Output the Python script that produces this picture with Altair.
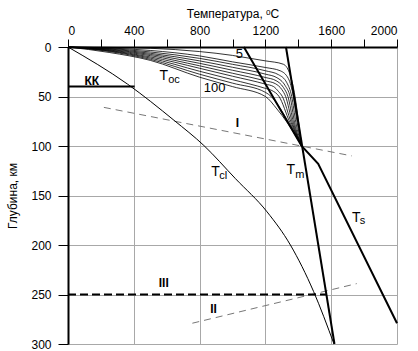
import altair as alt
import pandas as pd

# ---------------- data ----------------
# Toc family (oceanic geotherms, 10 curves from "5" to "100")
toc_names = ["5", "10", "20", "30", "40", "50", "60", "70", "80", "100"]
toc_T = [
    [0, 250, 503, 800, 1000, 1109, 1200, 1309, 1352, 1372, 1380, 1402, 1420],
    [0, 250, 500, 800, 1000, 1200, 1290, 1340, 1370, 1393, 1420],
    [0, 250, 500, 800, 1000, 1200, 1280, 1330, 1360, 1385, 1420],
    [0, 250, 500, 800, 1000, 1200, 1270, 1320, 1350, 1377, 1420],
    [0, 250, 500, 800, 1000, 1200, 1265, 1310, 1337, 1370, 1420],
    [0, 250, 500, 800, 1000, 1200, 1260, 1300, 1323, 1363, 1420],
    [0, 250, 500, 800, 1000, 1200, 1250, 1280, 1303, 1356, 1420],
    [0, 250, 500, 800, 1000, 1200, 1240, 1283, 1348, 1420],
    [0, 250, 500, 800, 1000, 1200, 1235, 1290, 1340, 1420],
    [0, 250, 500, 800, 1000, 1200, 1270, 1331, 1420],
]
toc_d = [
    [0, 0.4, 1.3, 4.6, 8.5, 11.5, 14, 17.4, 29, 42.5, 50, 76, 100],
    [0, 1.0, 3.5, 9, 15, 20.7, 24, 32, 50, 76, 100],
    [0, 1.5, 5, 11.5, 17.5, 24, 28, 36, 50, 76, 100],
    [0, 2, 6.3, 14, 20.5, 27.4, 31, 39, 50, 76, 100],
    [0, 2.5, 7.5, 16.5, 23.5, 30.8, 34, 41, 50, 76, 100],
    [0, 3, 8.7, 19, 26.5, 34.2, 37, 43, 50, 76, 100],
    [0, 3.5, 10, 21.5, 29.5, 37.5, 40, 45, 50, 76, 100],
    [0, 4, 11.2, 24.5, 33, 41.8, 44, 50, 76, 100],
    [0, 4.5, 12.4, 27.5, 36.5, 45.8, 50, 62, 76, 100],
    [0, 5.5, 13.5, 30.5, 40, 50, 62.6, 76, 100],
]

# Tcl (continental geotherm)
tcl_T = [0, 362, 644, 826, 1018, 1210, 1352, 1493, 1617]
tcl_d = [0, 37.5, 74, 99.5, 133, 166.5, 200, 247, 300]

# Tm and Ts lines
tm_T = [1325, 1620]
tm_d = [0, 300]
ts_T = [1069, 1420, 1521, 2000]
ts_d = [0, 100, 118, 279]

# KK and III horizontal lines
kk_T = [0, 405]
kk_d = [40, 40]
iii_T = [0, 1568]
iii_d = [250, 250]

# thin dashed lines I and II
i_T = [218, 1725]
i_d = [61, 110]
ii_T = [756, 1755]
ii_d = [279, 239]

x_ticks = list(range(0, 2001, 200))
y_ticks = list(range(0, 301, 50))

# annotations: (T, depth, text)
main_labels = [(1042, 6.8, "5"), (891, 41.5, "100")]
big_T_labels = [(582, 29.5, "T"), (897, 126, "T"), (1355, 124.6, "T"), (1752, 172.7, "T")]
sub_labels = [(644, 33, "oc"), (943, 130, "cl"), (1410, 129.5, "m"), (1791, 176, "s")]
bold_labels = [(145, 34.5, "КК"), (1030, 76.7, "I"), (582, 238.5, "III"), (885, 265, "II")]

# ---------------- build tables ----------------
rows = []
for name, ts, ds in zip(toc_names, toc_T, toc_d):
    for k, (t, d) in enumerate(zip(ts, ds)):
        rows.append({"curve": name, "T": t, "d": d, "k": k})
toc_df = pd.DataFrame(rows)


def seg(ts, ds):
    return pd.DataFrame({"T": ts, "d": ds, "k": list(range(len(ts)))})


def lab(items):
    return pd.DataFrame(items, columns=["T", "d", "text"])


FONT = "Liberation Sans"

X = alt.X(
    "T:Q",
    scale=alt.Scale(domain=[0, 2000], nice=False, zero=False),
    axis=alt.Axis(
        orient="top",
        values=x_ticks,
        format="d",
        labelExpr="datum.value % 400 == 0 ? datum.label : ''",
        title="Температура, ᵒC",
        titleFontSize=12,
        titleFontWeight="normal",
        titleColor="black",
        titlePadding=4,
        labelFontSize=12,
        labelColor="black",
        labelPadding=2,
        tickSize=8,
        tickColor="black",
        domainColor="black",
        domainWidth=2,
        grid=True,
        gridColor="#a8a8a8",
        gridOpacity={"condition": {"test": "datum.value % 400 == 0", "value": 1}, "value": 0},
    ),
)
Y = alt.Y(
    "d:Q",
    scale=alt.Scale(domain=[0, 300], nice=False, zero=False, reverse=True),
    axis=alt.Axis(
        orient="left",
        values=y_ticks,
        title="Глубина, км",
        titleFontSize=12,
        titleFontWeight="normal",
        titleColor="black",
        titlePadding=11,
        labelFontSize=12,
        labelColor="black",
        labelPadding=7,
        tickSize=10,
        tickColor="black",
        domainColor="black",
        domainWidth=2,
        grid=True,
        gridColor="#a8a8a8",
    ),
)

toc = alt.Chart(toc_df).mark_line(color="black", strokeWidth=0.8, interpolate="monotone").encode(
    x=X, y=Y, detail="curve:N", order="k:Q"
)
tcl = alt.Chart(seg(tcl_T, tcl_d)).mark_line(color="black", strokeWidth=1, interpolate="monotone").encode(
    x=X, y=Y, order="k:Q"
)
tm = alt.Chart(seg(tm_T, tm_d)).mark_line(color="black", strokeWidth=2).encode(x=X, y=Y, order="k:Q")
ts = alt.Chart(seg(ts_T, ts_d)).mark_line(color="black", strokeWidth=2).encode(x=X, y=Y, order="k:Q")
kk = alt.Chart(seg(kk_T, kk_d)).mark_line(color="black", strokeWidth=2).encode(x=X, y=Y, order="k:Q")
iii = alt.Chart(seg(iii_T, iii_d)).mark_line(color="black", strokeWidth=2, strokeDash=[8, 4]).encode(
    x=X, y=Y, order="k:Q"
)
d1 = alt.Chart(seg(i_T, i_d)).mark_line(color="#777777", strokeWidth=1, strokeDash=[7, 5]).encode(
    x=X, y=Y, order="k:Q"
)
d2 = alt.Chart(seg(ii_T, ii_d)).mark_line(color="#777777", strokeWidth=1, strokeDash=[7, 5]).encode(
    x=X, y=Y, order="k:Q"
)

t_main = alt.Chart(lab(main_labels)).mark_text(font=FONT, fontSize=13, color="black", baseline="middle").encode(
    x=X, y=Y, text="text:N"
)
t_big = alt.Chart(lab(big_T_labels)).mark_text(font=FONT, fontSize=14, color="black", baseline="middle").encode(
    x=X, y=Y, text="text:N"
)
t_sub = alt.Chart(lab(sub_labels)).mark_text(font=FONT, fontSize=11, color="black", baseline="middle").encode(
    x=X, y=Y, text="text:N"
)
t_bold = alt.Chart(lab(bold_labels)).mark_text(
    font=FONT, fontSize=12, fontWeight="bold", color="black", baseline="middle"
).encode(x=X, y=Y, text="text:N")

chart = (
    alt.layer(d1, d2, toc, tcl, tm, ts, kk, iii, t_main, t_big, t_sub, t_bold)
    .properties(
        width=329,
        height=297,
        autosize=alt.AutoSizeParams(type="none"),
        padding={"left": 68, "top": 47, "right": 21, "bottom": 7},
        background="white",
    )
    .configure(font=FONT)
    .configure_view(stroke=None)
)

chart.save("out.html", embed_options={"renderer": "svg", "actions": False})
